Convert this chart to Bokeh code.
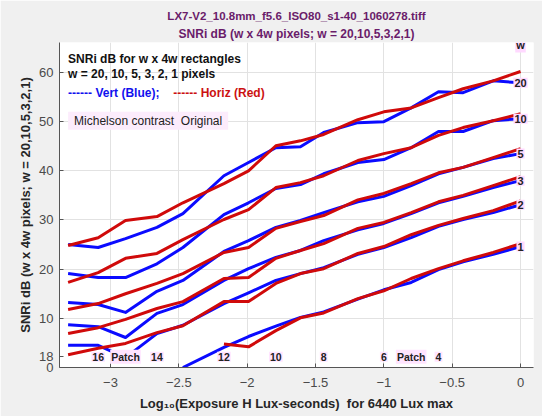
import math
from bokeh.plotting import figure
from bokeh.models import Label, Range1d, FixedTicker, Title
from bokeh.embed import file_html
from bokeh.resources import INLINE

nan = math.nan

# Step-chart patches (18 = darkest ... 1 = brightest) and their log10 exposure
patch_number = [18, 17, 16, 15, 14, 13, 12, 11, 10, 9, 8, 7, 6, 5, 4, 3, 2, 1]
log_exposure = [-3.50, -3.31, -3.09, -2.89, -2.66, -2.47, -2.17, -1.99, -1.79,
                -1.61, -1.44, -1.19, -1.00, -0.80, -0.60, -0.42, -0.20, 0.0]

# Rectangle widths w (pixels); regions are w x 4w
widths = [20, 10, 5, 3, 2, 1]

# SNRi (dB), vertical rectangles
vert_20 = [nan, 25.0, 24.4, 26.2, 28.5, 31.3, 39.0, 41.7, 44.7, 44.9, 47.8, 49.8, 50.0, 52.8, 56.1, 55.9, 58.3, 57.9]
vert_10 = [nan, 19.1, 18.3, 18.3, 21.1, 24.4, 31.1, 33.5, 36.4, 37.2, 39.4, 41.7, 42.3, 44.7, 48.0, 48.0, 50.2, 50.6]
vert_5 = [nan, 13.2, 12.8, 11.2, 15.5, 17.7, 23.6, 25.8, 28.5, 29.9, 31.5, 33.7, 34.8, 37.0, 39.4, 40.7, 42.5, 43.5]
vert_3 = [nan, 8.7, 8.3, 6.1, 11.0, 12.8, 17.7, 20.1, 22.4, 23.8, 25.8, 28.0, 29.3, 31.3, 33.5, 34.8, 36.6, 38.0]
vert_2 = [nan, 4.5, 4.5, 2.0, 6.9, 8.6, 13.0, 15.2, 17.7, 19.1, 20.3, 23.0, 24.4, 26.4, 28.7, 30.1, 31.5, 33.1]
vert_1 = [nan, nan, nan, nan, nan, 0.0, 4.1, 6.3, 8.4, 10.2, 11.3, 13.9, 15.8, 17.3, 19.9, 21.5, 23.0, 24.6]

# SNRi (dB), horizontal rectangles
horiz_20 = [nan, 24.8, 26.4, 29.9, 30.7, 33.5, 37.4, 40.0, 45.1, 46.1, 47.4, 50.4, 52.0, 52.8, 54.9, 56.7, 58.3, 60.2]
horiz_10 = [nan, 17.3, 19.3, 22.2, 23.2, 26.0, 30.1, 32.1, 36.6, 37.6, 39.0, 42.1, 43.5, 44.7, 47.2, 48.8, 50.2, 51.6]
horiz_5 = [nan, 11.8, 13.0, 15.0, 17.1, 19.1, 23.4, 24.4, 28.3, 29.7, 30.9, 34.1, 35.4, 37.4, 39.6, 40.7, 42.7, 44.5]
horiz_3 = [nan, 6.9, 8.1, 9.8, 12.0, 13.4, 18.1, 18.3, 22.2, 23.8, 25.2, 28.3, 29.5, 31.5, 33.7, 35.0, 37.0, 38.8]
horiz_2 = [nan, 2.6, 3.9, 4.9, 7.1, 8.5, 13.4, 13.4, 17.1, 19.1, 20.1, 23.2, 24.6, 27.0, 28.9, 30.3, 31.9, 33.9]
horiz_1 = [nan, nan, nan, nan, nan, nan, 4.8, 4.2, 7.5, 10.1, 11.1, 14.0, 15.6, 18.1, 20.1, 21.7, 23.4, 25.2]

vert_series = [vert_20, vert_10, vert_5, vert_3, vert_2, vert_1]
horiz_series = [horiz_20, horiz_10, horiz_5, horiz_3, horiz_2, horiz_1]

# Patch annotations along the bottom of the plot
patch_labels = {18: "18", 16: "16", 15: "Patch", 14: "14", 12: "12",
                10: "10", 8: "8", 6: "6", 5: "Patch", 4: "4"}
patch_label_y = 2.2

y_ticks = [0, 10, 20, 30, 40, 50, 60]
x_ticks = [-3, -2.5, -2, -1.5, -1, -0.5, 0]

FONT = "Liberation Sans"
BLUE = "#0b0bff"
RED = "#d00a0a"
PINK = "#ffd9ff"
PATCH_PINK = "#ffe4ff"
TITLE_COLOR = "#6a1c6a"

x_lo, x_hi = -3.373, 0.095
y_lo, y_hi = 0.0, 66.1

p = figure(width=542, height=416, output_backend="svg", toolbar_location=None,
           x_range=Range1d(x_lo, x_hi), y_range=Range1d(y_lo, y_hi),
           min_border_left=59, min_border_right=9, min_border_top=42,
           min_border_bottom=49)
p.background_fill_color = "white"
p.border_fill_color = "#f0f0f0"
p.outline_line_color = None

# Two-line title; the later Title sits further from the plot
p.add_layout(Title(text="SNRi dB (w x 4w pixels; w = 20,10,5,3,2,1)", align="center",
                   text_font=FONT, text_font_size="12px", text_font_style="bold",
                   text_color=TITLE_COLOR, standoff=4), "above")
p.add_layout(Title(text="LX7-V2_10.8mm_f5.6_ISO80_s1-40_1060278.tiff", align="center",
                   text_font=FONT, text_font_size="11.5px", text_font_style="bold",
                   text_color=TITLE_COLOR, standoff=2), "above")

# The darkest patch (18) falls left of the plot, so its number is carried
# by the y axis as an extra labelled tick
p.xaxis.ticker = FixedTicker(ticks=x_ticks)
p.yaxis.ticker = FixedTicker(ticks=y_ticks + [patch_label_y])
p.yaxis.major_label_overrides = {patch_label_y: patch_labels[18]}
p.xgrid.ticker = FixedTicker(ticks=x_ticks)
p.ygrid.ticker = FixedTicker(ticks=y_ticks)
for ax in (p.xaxis[0], p.yaxis[0]):
    ax.major_tick_in = 4
    ax.major_tick_out = 0
    ax.minor_tick_line_color = None
    ax.axis_line_color = "#555555"
    ax.major_tick_line_color = "#555555"
    ax.major_label_text_font = FONT
    ax.major_label_text_font_size = "13px"
    ax.major_label_text_color = "#4a4a4a"
    ax.axis_label_text_font = FONT
    ax.axis_label_text_font_size = "13px"
    ax.axis_label_text_font_style = "bold"
    ax.axis_label_text_color = "#262626"
p.xaxis.major_label_standoff = 10
p.yaxis.major_label_standoff = 6
p.xaxis.axis_label_standoff = 6
p.yaxis.axis_label_standoff = 3
p.xaxis.axis_label = "Log\u2081\u2080(Exposure H Lux-seconds)\u00a0 for 6440 Lux max"
p.yaxis.axis_label = "SNRi dB (w x 4w pixels; w = 20,10,5,3,2,1)"
p.grid.grid_line_color = "#e2e2e2"
p.grid.grid_line_width = 1

# Vertical (blue) then horizontal (red) curves
for ys in vert_series:
    p.line(log_exposure, ys, line_color=BLUE, line_width=3, line_join="round")
for ys in horiz_series:
    p.line(log_exposure, ys, line_color=RED, line_width=3, line_join="round")

# Width labels at the right-hand end of each curve pair
for w, ys in zip(widths, vert_series):
    p.add_layout(Label(x=log_exposure[-1], y=ys[-1], text=str(w),
                       text_align="center", text_baseline="middle",
                       text_font=FONT, text_font_size="11px",
                       text_font_style="bold", text_color="#222222",
                       background_fill_color=PINK, padding=1))
p.add_layout(Label(x=log_exposure[-1], y=65.5, text="w",
                   text_align="center", text_baseline="middle",
                   text_font=FONT, text_font_size="11px",
                   text_font_style="bold", text_color="#222222",
                   background_fill_color=PINK, padding=1))

# Patch numbers along the bottom
for num, lx in zip(patch_number, log_exposure):
    if num in patch_labels and num != 18:
        p.add_layout(Label(x=lx, y=patch_label_y, text=patch_labels[num],
                           text_align="center", text_baseline="middle",
                           text_font=FONT, text_font_size="10.5px",
                           text_font_style="bold", text_color="#222222",
                           background_fill_color=PATCH_PINK, padding=1))

# Legend text block
x_left = -3.31
p.add_layout(Label(x=x_left, y=62.8, text="SNRi dB for w x 4w rectangles",
                   text_baseline="middle", text_font=FONT, text_font_size="12px",
                   text_font_style="bold", text_color="#111111"))
p.add_layout(Label(x=x_left, y=59.6, text="w = 20, 10, 5, 3, 2, 1 pixels",
                   text_baseline="middle", text_font=FONT, text_font_size="12px",
                   text_font_style="bold", text_color="#111111"))
p.add_layout(Label(x=x_left, y=55.9, text="------ Vert (Blue);",
                   text_baseline="middle", text_font=FONT, text_font_size="12px",
                   text_font_style="bold", text_color="#1010ee"))
p.add_layout(Label(x=-2.54, y=55.9, text="------ Horiz (Red)",
                   text_baseline="middle", text_font=FONT, text_font_size="12px",
                   text_font_style="bold", text_color="#cc1111"))
p.add_layout(Label(x=x_left, y=50.2, text="Michelson contrast\u00a0 Original",
                   text_baseline="middle", text_font=FONT, text_font_size="12px",
                   text_color="#222222", background_fill_color="#fcecfc",
                   padding=(6, 2)))

open("out.html", "w").write(file_html(p, INLINE))
